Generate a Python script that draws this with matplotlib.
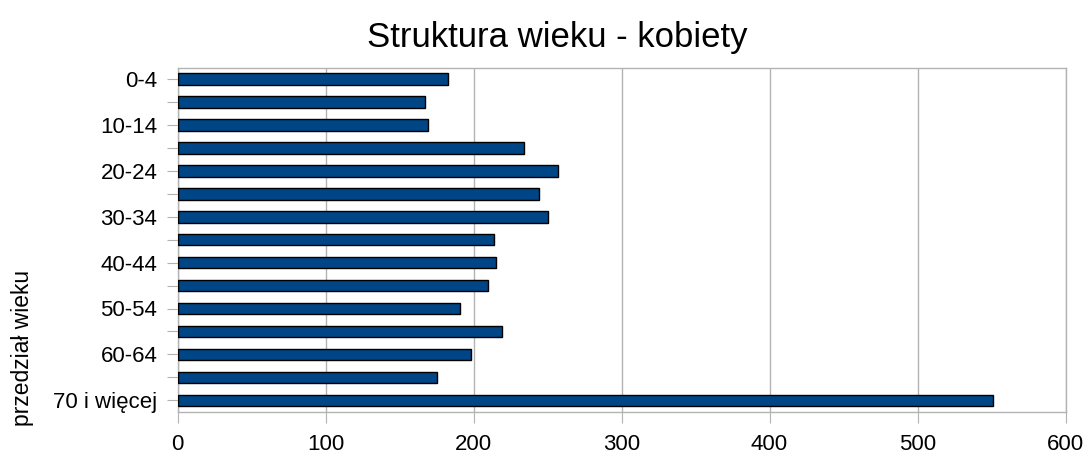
import matplotlib
matplotlib.use("Agg")
import matplotlib.pyplot as plt
import numpy as np

plt.rcParams['font.family'] = ['Liberation Sans', 'DejaVu Sans']

categories = ["0-4", "5-9", "10-14", "15-19", "20-24", "25-29", "30-34", "35-39",
              "40-44", "45-49", "50-54", "55-59", "60-64", "65-69", "70 i więcej"]
values = [183, 167, 169, 234, 257, 244, 250, 214, 215, 210, 191, 219, 198, 175, 551]
shown_labels = [c if i % 2 == 0 else "" for i, c in enumerate(categories)]
xticks = [0, 100, 200, 300, 400, 500, 600]

W, H = 1085, 454
fig = plt.figure(figsize=(W / 100, H / 100), dpi=100)
ax = fig.add_axes([177.5 / W, 42.3 / H, 888 / W, 344 / H])

grey = '#b3b3b3'
y = np.arange(len(categories))
ax.barh(y, values, height=0.5, color='#004586', edgecolor='black', linewidth=1.0, zorder=3)

ax.set_xlim(0, 600)
ax.set_ylim(len(categories) - 0.5, -0.5)
ax.set_xticks(xticks)
ax.set_xticklabels([str(t) for t in xticks])
ax.set_yticks(y)
ax.set_yticklabels(shown_labels)
ax.grid(axis='x', color=grey, linewidth=1, zorder=0)
for s in ax.spines.values():
    s.set_color(grey)
    s.set_linewidth(1)
ax.tick_params(axis='y', length=8, color=grey, labelsize=16, pad=6.5)
ax.tick_params(axis='x', length=8, color=grey, labelsize=16, pad=8)

fig.text(557 / W, 1 - 37 / H, "Struktura wieku - kobiety", ha='center', va='center', fontsize=25)
fig.text(23 / W, 1 - 348 / H, "przedział wieku", rotation=90, ha='center', va='center', fontsize=16.5)

fig.savefig("out.png", dpi=100)
